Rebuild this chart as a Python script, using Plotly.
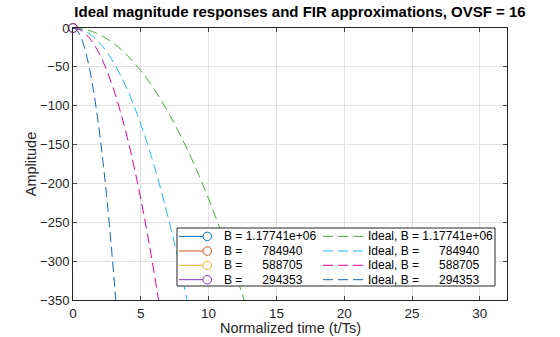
import plotly.graph_objects as go

# ---- data ----
labels_fir = ["B = 1.17741e+06",
              "B =\u00a0\u00a0\u00a0\u00a0\u00a0\u00a0784940",
              "B =\u00a0\u00a0\u00a0\u00a0\u00a0\u00a0588705",
              "B =\u00a0\u00a0\u00a0\u00a0\u00a0\u00a0294353"]
labels_ideal = ["Ideal, B = 1.17741e+06",
                "Ideal, B =\u00a0\u00a0\u00a0\u00a0\u00a0\u00a0784940",
                "Ideal, B =\u00a0\u00a0\u00a0\u00a0\u00a0\u00a0588705",
                "Ideal, B =\u00a0\u00a0\u00a0\u00a0\u00a0\u00a0294353"]

# FIR approximations (only the starting point is visible)
t_fir = [0]
amp_fir = [0]

# Ideal responses
t_ideal_1 = [0, 1, 2, 3, 4, 5, 6, 7, 8, 9, 10, 11, 12, 13]
amp_ideal_1 = [0, -2.2, -8.8, -19.8, -35.2, -55, -79.2, -107.8, -140.8, -178.2, -220, -266.2, -316.8, -371.8]

t_ideal_2 = [0, 1, 2, 3, 4, 5, 6, 7, 8, 9]
amp_ideal_2 = [0, -4.95, -19.8, -44.6, -79.2, -123.8, -178.2, -242.6, -316.8, -401]

t_ideal_3 = [0, 0.5, 1, 1.5, 2, 2.5, 3, 3.5, 4, 4.5, 5, 5.5, 6, 6.5, 7]
amp_ideal_3 = [0, -2.2, -8.8, -19.8, -35.2, -55, -79.2, -107.8, -140.8, -178.2, -220, -266.2, -316.8, -371.8, -431]

t_ideal_4 = [0, 0.25, 0.5, 0.75, 1, 1.25, 1.5, 1.75, 2, 2.25, 2.5, 2.75, 3, 3.25, 3.5]
amp_ideal_4 = [0, -2.2, -8.8, -19.8, -35.2, -55, -79.2, -107.8, -140.8, -178.2, -220, -266.2, -316.8, -371.8, -431]

x_ticks = [0, 5, 10, 15, 20, 25, 30]
y_ticks = [0, -50, -100, -150, -200, -250, -300, -350]

# ---- styles ----
fir_colors = ["#0072BD", "#D95319", "#EDB120", "#8236C2"]
ideal_colors = ["#4FAA40", "#22BDF0", "#E0088C", "#1767B0"]
DASH = "10px,5px"
FONT = "Liberation Sans, Arial, Helvetica, sans-serif"
TXT = "#262626"

fig = go.Figure()

ideal_t = [t_ideal_1, t_ideal_2, t_ideal_3, t_ideal_4]
ideal_a = [amp_ideal_1, amp_ideal_2, amp_ideal_3, amp_ideal_4]
for i in range(4):
    fig.add_trace(go.Scatter(
        x=ideal_t[i], y=ideal_a[i], mode="lines", name=labels_ideal[i],
        line=dict(color=ideal_colors[i], width=1, dash=DASH, shape="spline"),
        xaxis="x", yaxis="y", showlegend=False))

for i in range(4):
    fig.add_trace(go.Scatter(
        x=t_fir, y=amp_fir, mode="lines+markers", name=labels_fir[i],
        line=dict(color=fir_colors[i], width=1),
        marker=dict(symbol="circle-open", size=9, color=fir_colors[i],
                    line=dict(width=1, color=fir_colors[i])),
        cliponaxis=False, xaxis="x2", yaxis="y", showlegend=False))

L, R, T, B = 73, 53, 28, 37
W, H = 560, 337
pw, ph = W - L - R, H - T - B

def px_x(p):
    return (p - L) / pw

def px_y(p):
    return (H - B - p) / ph

# ---- legend box drawn in paper space ----
box = (177, 228, 495, 286)
rows = [236.4, 251.0, 265.3, 279.7]
shapes = [dict(type="rect", xref="paper", yref="paper",
               x0=px_x(box[0]), x1=px_x(box[2]), y0=px_y(box[3]), y1=px_y(box[1]),
               fillcolor="white", line=dict(color=TXT, width=1), layer="above")]
annotations = []
for i, ry in enumerate(rows):
    shapes.append(dict(type="line", xref="paper", yref="paper",
                       x0=px_x(179), x1=px_x(203), y0=px_y(ry), y1=px_y(ry),
                       line=dict(color=fir_colors[i], width=1), layer="above"))
    shapes.append(dict(type="circle", xref="paper", yref="paper",
                       x0=px_x(203), x1=px_x(211.5), y0=px_y(ry + 4.25), y1=px_y(ry - 4.25),
                       line=dict(color=fir_colors[i], width=1), fillcolor="rgba(0,0,0,0)",
                       layer="above"))
    shapes.append(dict(type="line", xref="paper", yref="paper",
                       x0=px_x(323), x1=px_x(363), y0=px_y(ry), y1=px_y(ry),
                       line=dict(color=ideal_colors[i], width=1, dash=DASH), layer="above"))
    annotations.append(dict(text=labels_fir[i], xref="paper", yref="paper",
                            x=px_x(221.5), y=px_y(ry), xanchor="left", yanchor="middle",
                            showarrow=False, font=dict(size=12, color="black")))
    annotations.append(dict(text=labels_ideal[i], xref="paper", yref="paper",
                            x=px_x(365.5), y=px_y(ry), xanchor="left", yanchor="middle",
                            showarrow=False, font=dict(size=12, color="black")))

# x-axis title
annotations.append(dict(text="Normalized time (t/Ts)", xref="paper", yref="paper",
                        x=px_x(290), y=px_y(337), xanchor="center", yanchor="bottom",
                        borderpad=0, showarrow=False, font=dict(size=14.5, color=TXT)))

fig.update_layout(
    width=W, height=H,
    margin=dict(l=L, r=R, t=T, b=B, autoexpand=False),
    paper_bgcolor="white", plot_bgcolor="white",
    font=dict(family=FONT, size=13, color=TXT),
    showlegend=False,
    title=dict(text="<b>Ideal magnitude responses and FIR approximations, OVSF = 16</b>",
               x=300 / W, xref="container", xanchor="center",
               y=1 - 12 / H, yref="container", yanchor="middle",
               font=dict(size=15, color="black")),
    xaxis=dict(range=[0, 32], tickvals=x_ticks, ticks="inside", ticklen=4,
               showline=True, linecolor=TXT, linewidth=1, mirror="ticks",
               showgrid=True, gridcolor="#E2E2E2", zeroline=False,
               showticklabels=False),
    xaxis2=dict(range=[0, 32], overlaying="x", anchor="y", side="bottom",
                tickvals=x_ticks, ticks="outside", ticklen=1, tickcolor="rgba(0,0,0,0)",
                showline=False, showgrid=False, zeroline=False,
                tickfont=dict(size=13.5, color=TXT)),
    yaxis=dict(range=[-350, 0], tickvals=y_ticks, ticks="inside", ticklen=4,
               showline=True, linecolor=TXT, linewidth=1, mirror="ticks",
               showgrid=True, gridcolor="#E2E2E2", zeroline=False,
               tickfont=dict(size=13, color=TXT),
               title=dict(text="Amplitude", font=dict(size=14.5, color=TXT), standoff=0)),
    shapes=shapes,
    annotations=annotations,
)

fig.write_html("out.html")
